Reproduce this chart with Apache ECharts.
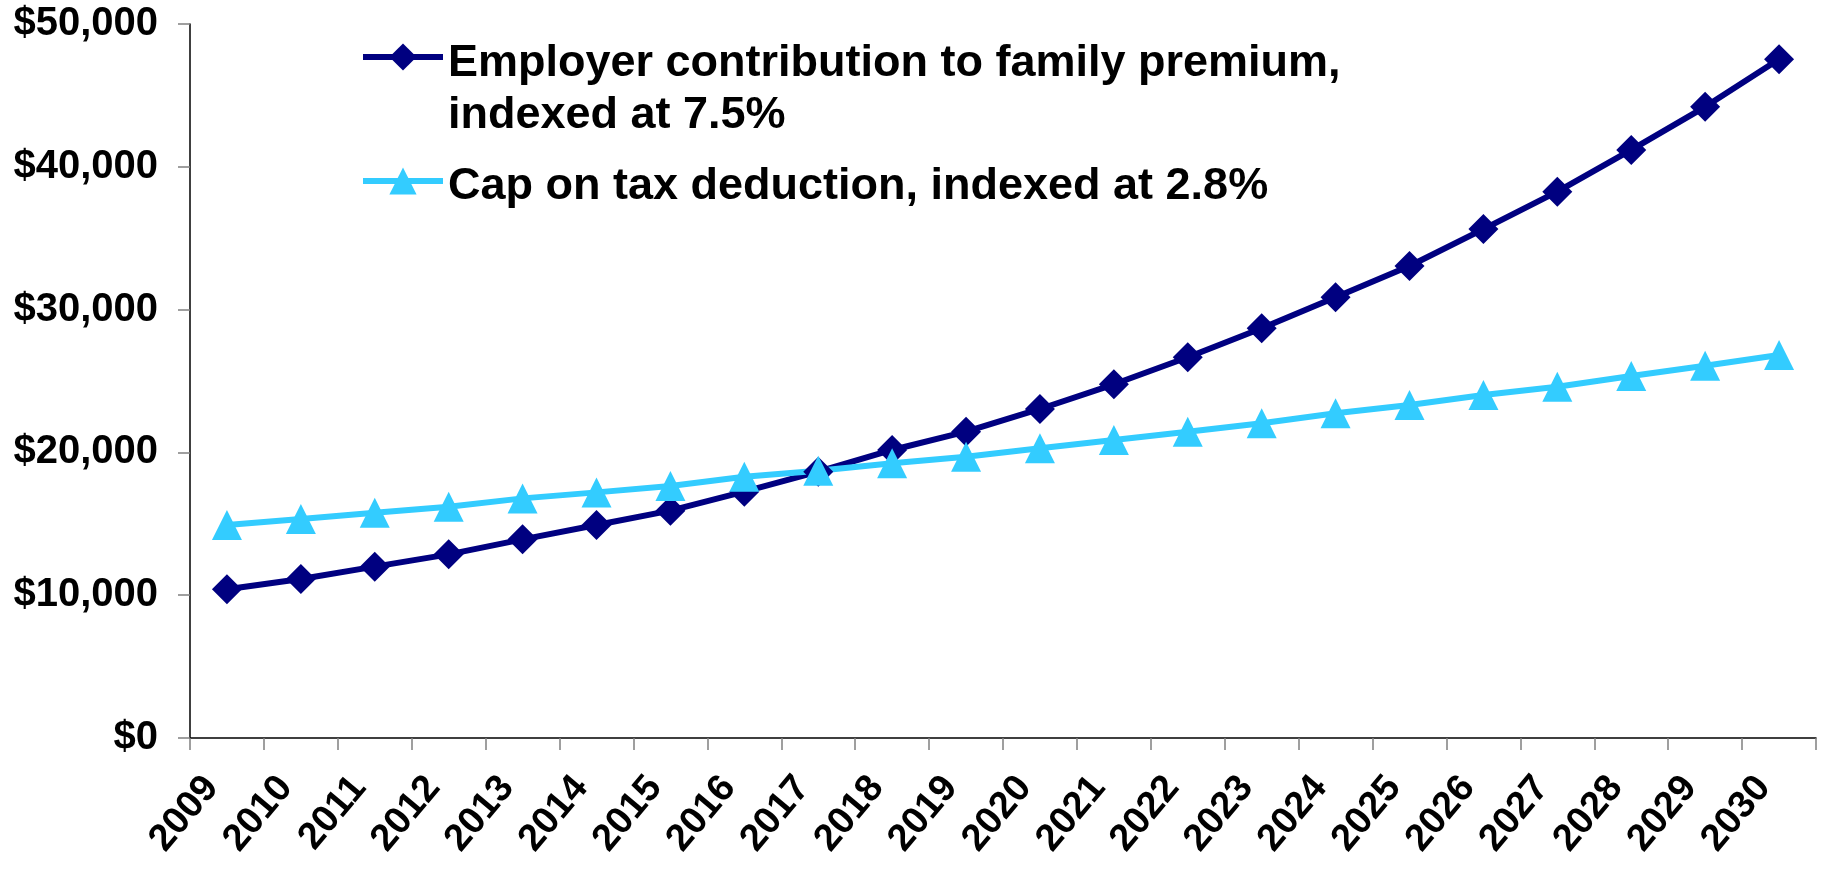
<!DOCTYPE html>
<html>
<head>
<meta charset="utf-8">
<script src="https://cdn.jsdelivr.net/npm/echarts@6/dist/echarts.min.js"></script>
<style>
html,body{margin:0;padding:0;background:#fff;}
#chart{width:1823px;height:869px;}
</style>
</head>
<body>
<div id="chart"></div>
<script>
var years = ['2009','2010','2011','2012','2013','2014','2015','2016','2017','2018','2019','2020','2021','2022','2023','2024','2025','2026','2027','2028','2029','2030'];
var employerName = 'Employer contribution to family premium,\nindexed at 7.5%';
var capName = 'Cap on tax deduction, indexed at 2.8%';
var employerValues = [10410, 11130, 12000, 12860, 13910, 14920, 15920, 17250, 18650, 20170, 21450, 23040, 24770, 26660, 28690, 30860, 33050, 35640, 38260, 41180, 44200, 47530];
var capValues = [14920, 15340, 15780, 16200, 16780, 17200, 17650, 18300, 18720, 19240, 19700, 20290, 20870, 21450, 22040, 22740, 23320, 24020, 24600, 25350, 26070, 26820];
var yMin = 0, yMax = 50000, yStep = 10000;

var FONT = '"Liberation Sans", Arial, sans-serif';
var legendText = function (gap) {
  return {fontFamily: FONT, fontWeight: 'bold', fontSize: 45, color: '#000', lineHeight: 52,
    rich: {gap: {lineHeight: gap, fontSize: 10}}};
};
var chart = echarts.init(document.getElementById('chart'));
chart.setOption({
  animation: false,
  backgroundColor: '#ffffff',
  grid: {left: 190, right: 7, top: 24, bottom: 131, containLabel: false},
  legend: [{
    data: [employerName],
    orient: 'vertical',
    left: 360, top: -28, padding: 0,
    itemWidth: 80, itemHeight: 34,
    lineStyle: {width: 6},
    formatter: function (n) { return '{gap| }\n' + n; },
    textStyle: legendText(66)
  }, {
    data: [capName],
    orient: 'vertical',
    left: 360, top: 149, padding: 0,
    itemWidth: 80, itemHeight: 34,
    lineStyle: {width: 6},
    formatter: function (n) { return '{gap| }\n' + n; },
    textStyle: legendText(12)
  }],
  xAxis: {
    type: 'category',
    data: years,
    boundaryGap: true,
    axisLine: {lineStyle: {color: '#000', width: 1.5}},
    axisTick: {show: true, length: 12, lineStyle: {color: '#808080', width: 1.5}},
    axisLabel: {interval: 0, rotate: 50, margin: 25, padding: [0, 24, 0, 0], fontFamily: FONT, fontWeight: 'bold', fontSize: 38, color: '#000'},
    splitLine: {show: false}
  },
  yAxis: {
    type: 'value',
    min: yMin, max: yMax, interval: yStep,
    axisLine: {show: true, lineStyle: {color: '#000', width: 1.5}},
    axisTick: {show: true, length: 12, lineStyle: {color: '#808080', width: 1.5}},
    axisLabel: {margin: 32, fontFamily: FONT, fontWeight: 'bold', fontSize: 40, color: '#000',
      formatter: function (v) { return '$' + v.toLocaleString('en-US'); }},
    splitLine: {show: false}
  },
  series: [{
    name: employerName,
    type: 'line',
    data: employerValues,
    symbol: 'diamond',
    symbolSize: 30,
    lineStyle: {color: '#000080', width: 6},
    itemStyle: {color: '#000080'}
  }, {
    name: capName,
    type: 'line',
    data: capValues,
    symbol: 'triangle',
    symbolSize: 30,
    lineStyle: {color: '#33CCFF', width: 6},
    itemStyle: {color: '#33CCFF'}
  }]
});
</script>
</body>
</html>
